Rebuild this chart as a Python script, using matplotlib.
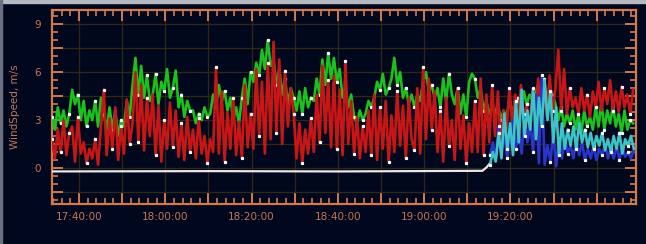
import pandas as pd
import matplotlib
matplotlib.use('agg')
import matplotlib.pyplot as plt
import matplotlib.dates as mdates
from matplotlib.ticker import MultipleLocator, FuncFormatter
from matplotlib.patches import Rectangle

# Wind speed samples (m/s), one every 40 s from 17:33:45
red_speed = [
    1.8, 0.6, 2.4, 1.0, 3.0, 0.8, 2.2,
    2.6, 0.4, 3.2, 0.9, 1.6, 0.3, 1.2,
    0.6, 1.8, 0.2, 2.5, 4.9, 0.8, 3.1,
    1.2, 3.8, 0.5, 2.6, 0.9, 4.3, 1.5,
    2.8, 6.0, 1.6, 5.2, 1.1, 4.4, 2.0,
    4.6, 0.8, 3.9, 0.4, 3.0, 1.2, 4.1,
    1.3, 3.6, 0.7, 2.8, 0.5, 3.2, 1.0,
    2.4, 0.6, 3.1, 0.9, 2.0, 0.3, 1.8,
    1.0, 6.3, 0.9, 4.8, 0.4, 3.5, 1.2,
    4.4, 0.8, 2.9, 0.6, 5.2, 1.3, 3.4,
    1.2, 6.2, 2.0, 5.4, 0.9, 6.6, 1.8,
    7.9, 2.2, 6.8, 1.5, 6.1, 2.6, 5.0,
    3.4, 0.6, 2.8, 0.3, 2.4, 0.9, 3.1,
    1.0, 4.6, 1.6, 6.4, 2.2, 5.5, 1.3,
    5.8, 1.2, 4.9, 0.8, 6.7, 1.5, 4.2,
    0.9, 3.2, 0.6, 2.6, 1.0, 3.6, 0.8,
    4.6, 0.5, 3.8, 1.2, 4.2, 0.4, 3.3,
    1.0, 4.8, 1.4, 3.9, 0.6, 4.4, 1.8,
    1.1, 5.0, 0.9, 6.3, 1.8, 5.6, 2.4,
    4.8, 1.0, 3.6, 0.4, 4.4, 1.4, 3.0,
    0.5, 5.0, 1.2, 3.3, 0.3, 2.8, 1.0,
    4.2, 1.0, 5.6, 0.8, 4.6, 1.6, 5.2,
    2.0, 4.8, 1.4, 3.6, 2.4, 5.0, 2.8,
    4.6, 2.6, 5.2, 3.0, 4.0, 2.4, 4.8,
    3.4, 5.6, 3.8, 4.9, 3.2, 5.8, 3.6,
    5.0, 7.4, 3.6, 6.2, 3.4, 5.0, 3.8,
    4.4, 3.4, 5.0, 3.6, 4.6, 3.2, 4.8,
    3.8, 5.4, 3.6, 5.0, 4.0, 5.5, 3.6,
    4.8, 3.5, 5.1, 3.8, 4.6, 3.4, 4.9,
]

green_speed = [
    3.2, 2.4, 3.8, 2.8, 3.6, 2.6, 3.4,
    4.9, 4.0, 4.6, 3.0, 4.2, 2.6, 3.6,
    3.0, 4.2, 2.6, 4.4, 3.4, 2.4, 3.8,
    2.4, 3.6, 2.0, 3.0, 2.6, 4.2, 3.2,
    5.2, 6.9, 4.6, 6.4, 4.4, 5.8, 4.2,
    4.6, 5.9, 4.0, 5.4, 4.8, 6.2, 4.4,
    5.0, 6.1, 3.8, 4.6, 3.2, 4.2, 3.6,
    3.6, 2.8, 3.4, 3.0, 3.8, 3.2, 3.4,
    4.6, 3.8, 5.2, 4.2, 4.8, 3.6, 4.4,
    3.0, 3.8, 2.8, 4.4, 5.6, 4.0, 6.0,
    5.4, 6.6, 5.8, 7.4, 6.2, 8.0, 6.4,
    6.8, 5.2, 6.2, 4.6, 5.6, 4.0, 5.0,
    4.4, 3.6, 4.8, 3.4, 5.0, 3.8, 4.4,
    4.2, 5.6, 4.6, 6.8, 5.2, 7.2, 5.6,
    6.9, 5.4, 6.2, 4.4, 5.0, 3.8, 4.6,
    3.2, 2.8, 3.6, 3.0, 3.4, 4.2, 3.8,
    4.4, 5.4, 4.9, 5.9, 4.6, 5.0, 5.6,
    6.9, 5.2, 6.0, 4.4, 5.0, 4.0, 4.6,
    3.8, 4.6, 4.2, 5.4, 6.0, 4.8, 5.2,
    4.4, 5.0, 3.8, 5.6, 4.2, 5.9, 4.6,
    4.0, 5.0, 3.4, 4.6, 3.2, 5.4, 5.9,
    5.6, 4.4, 5.0, 3.6, 4.2, 3.4, 3.8,
    3.4, 4.0, 3.0, 3.6, 3.2, 4.2, 3.6,
    3.8, 4.4, 3.6, 4.8, 4.0, 4.6, 4.2,
    4.6, 5.2, 4.4, 5.6, 4.2, 5.0, 4.6,
    4.0, 3.0, 3.8, 2.6, 3.4, 2.8, 3.6,
    2.4, 3.4, 2.2, 3.6, 2.6, 3.2, 2.4,
    3.8, 2.6, 4.1, 2.4, 3.6, 2.8, 3.9,
    2.6, 3.4, 2.2, 3.6, 2.4, 3.0, 2.8,
]

# second sensor pair, one every 40 s from 19:15:15
cyan_speed = [
    0.2, 1.0, 0.4, 2.2, 0.6, 3.4, 1.2,
    2.8, 0.8, 4.2, 1.6, 4.9, 2.0, 3.6,
    2.4, 5.0, 1.8, 4.4, 2.6, 5.5, 3.0,
    4.8, 1.6, 3.8, 0.8, 2.8, 1.2, 2.4,
    1.4, 2.6, 1.2, 2.8, 1.6, 2.4, 1.3,
    2.2, 1.2, 2.0, 1.4, 2.2, 1.1, 1.8,
    1.0, 2.0, 1.2, 2.2, 0.9, 1.8, 1.4,
    2.0, 1.2,
]

blue_speed = [
    0.8, 1.6, 0.5, 2.6, 1.0, 2.2, 0.6,
    1.8, 3.0, 1.2, 2.4, 0.9, 3.4, 1.6,
    2.8, 1.0, 4.6, 0.3, 5.8, 0.2, 1.4,
    0.4, 2.2, 0.1, 1.8, 0.6, 2.0, 0.9,
    1.4, 0.6, 1.8, 0.8, 1.6, 0.5, 1.2,
    0.6, 1.4, 0.5, 1.2, 0.8, 1.5, 0.6,
    1.2, 0.6, 1.4, 0.5, 1.3, 0.7, 1.0,
    0.6, 1.1,
]

white_times = ['17:33:45', '18:10:00', '18:40:00', '19:13:30', '19:14:30', '19:15:15']
white_speed = [-0.22, -0.20, -0.22, -0.18, 0.05, 0.30]

day = '2024-01-01 '
t_main = pd.date_range(day + '17:33:45', periods=len(red_speed), freq='40s')
t_second = pd.date_range(day + '19:15:15', periods=len(cyan_speed), freq='40s')
t_white = pd.to_datetime([day + t for t in white_times])

bg = '#01081d'
orange = '#d07a52'
label_col = '#c0765a'

fig = plt.figure(figsize=(6.46, 2.44), dpi=100, facecolor=bg)
ax = fig.add_axes([0.0805, 0.164, 0.904, 0.795], facecolor=bg)

# light window frame on top and left
fig.patches.append(Rectangle((0, 1 - 3 / 244), 1, 3 / 244, transform=fig.transFigure,
                             color='#b4b8c0', zorder=0))
fig.patches.append(Rectangle((0, 0), 2 / 646, 1, transform=fig.transFigure,
                             color='#6a7080', zorder=0))

dot = dict(marker='s', markersize=1.3, markerfacecolor='white', markeredgecolor='white',
           markevery=3)
ax.plot(t_white, white_speed, color='#e8e8e8', lw=1.6, zorder=3)
ax.plot(t_main, green_speed, color='#1cc21c', lw=1.9, zorder=4, **dot)
ax.plot(t_main, red_speed, color='#c81616', lw=1.9, zorder=5, **dot)
ax.plot(t_second, blue_speed, color='#2a34c8', lw=1.9, zorder=6, **dot)
ax.plot(t_second, cyan_speed, color='#3cc4c8', lw=1.9, zorder=7, **dot)

ax.set_xlim(pd.Timestamp(day + '17:33:45'), pd.Timestamp(day + '19:49:05'))
ax.set_ylim(-2.26, 9.9)


def time_label(x, pos):
    t = mdates.num2date(x)
    minute = t.hour * 60 + t.minute
    if t.minute % 20 == 0 and minute <= 19 * 60 + 30:
        return t.strftime('%H:%M:%S')
    return ''


ax.xaxis.set_major_locator(mdates.MinuteLocator(byminute=range(0, 60, 10)))
ax.xaxis.set_minor_locator(mdates.MinuteLocator(byminute=range(0, 60, 2)))
ax.xaxis.set_major_formatter(FuncFormatter(time_label))

ax.yaxis.set_major_locator(MultipleLocator(1.5))
ax.yaxis.set_minor_locator(MultipleLocator(0.5))
ax.yaxis.set_major_formatter(FuncFormatter(
    lambda v, pos: f'{v:.0f}' if abs(v % 3) < 1e-6 else ''))

ax.grid(True, which='major', color='#2e2814', lw=0.9, zorder=0)
ax.tick_params(which='both', direction='in', top=True, right=True, color=orange,
               labelcolor=label_col, labelsize=7.5)
ax.tick_params(which='major', length=8, width=1.4)
ax.tick_params(which='minor', length=4, width=1.2)
ax.tick_params(axis='x', pad=6)
ax.tick_params(axis='y', pad=8)
for spine in ax.spines.values():
    spine.set_color(orange)
    spine.set_linewidth(1.6)

ax.set_ylabel('WindSpeed, m/s', color=label_col, fontsize=7.5, labelpad=10)

plt.savefig('out.png', dpi=100, facecolor=bg)
plt.close(fig)
